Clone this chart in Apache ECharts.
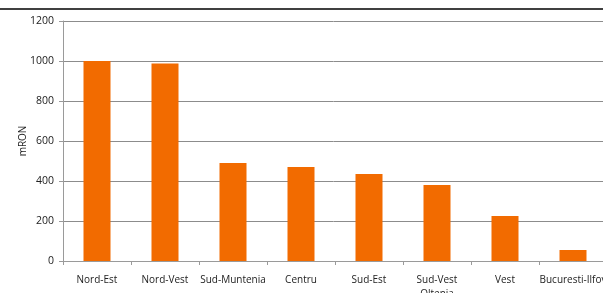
<!DOCTYPE html>
<html>
<head>
<meta charset="utf-8">
<script src="https://cdn.jsdelivr.net/npm/echarts@6/dist/echarts.min.js"></script>
<style>
  html, body { margin: 0; padding: 0; background: #fff; }
  #chart { width: 603px; height: 293px; }
</style>
</head>
<body>
<div id="chart"></div>
<script>
var regions = ['Nord-Est', 'Nord-Vest', 'Sud-Muntenia', 'Centru', 'Sud-Est', 'Sud-Vest\nOltenia', 'Vest', 'Bucuresti-Ilfov'];
var values = [1000, 988, 490, 470, 435, 380, 225, 55];
var yTicks = [0, 200, 400, 600, 800, 1000, 1200];
var yName = 'mRON';

var chart = echarts.init(document.getElementById('chart'));
chart.setOption({
    animation: false,
    textStyle: { fontFamily: 'Open Sans' },
    graphic: [{
        type: 'line',
        shape: { x1: 0, y1: 9, x2: 603, y2: 9 },
        style: { stroke: '#000', lineWidth: 1.5 }
    }, {
        // axis title, placed by hand so it sits close to the labels
        type: 'text',
        x: 23,
        y: 141,
        rotation: Math.PI / 2,
        style: {
            text: yName,
            fill: '#222',
            font: '10px "Open Sans"',
            align: 'center',
            verticalAlign: 'middle'
        }
    }],
    grid: {
        left: 63,
        top: 21,
        width: 544,
        height: 240,
        outerBoundsMode: 'none',
        containLabel: false
    },
    xAxis: {
        type: 'category',
        data: regions,
        axisLine: { lineStyle: { color: '#9a9a9a' } },
        axisTick: { show: true, length: 4, lineStyle: { color: '#9a9a9a' } },
        axisLabel: {
            interval: 0,
            color: '#222',
            fontSize: 10,
            margin: 12,
            lineHeight: 14
        }
    },
    yAxis: {
        type: 'value',
        min: 0,
        max: 1200,
        interval: 200,
        axisLine: { show: true, lineStyle: { color: '#9a9a9a' } },
        axisTick: { show: true, length: 4, lineStyle: { color: '#9a9a9a' } },
        axisLabel: {
            color: '#222',
            fontSize: 10.5,
            margin: 9,
            formatter: function (v) { return yTicks.indexOf(v) >= 0 ? v : ''; }
        },
        splitLine: { lineStyle: { color: '#8c8c8c', width: 1 } }
    },
    series: [{
        type: 'bar',
        data: values,
        barWidth: 27,
        itemStyle: { color: '#f26b00' }
    }]
});
</script>
</body>
</html>
